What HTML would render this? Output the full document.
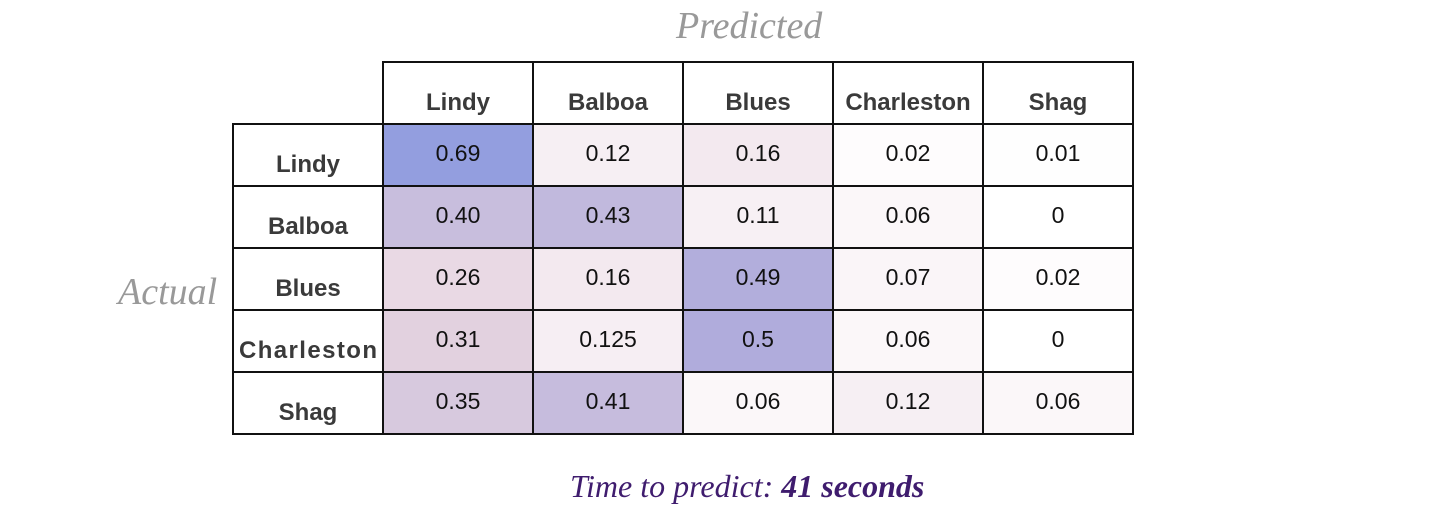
<!DOCTYPE html>
<html><head><meta charset="utf-8">
<style>
body{margin:0;width:1444px;height:526px;background:#fff;position:relative;overflow:hidden;font-family:"Liberation Sans",sans-serif}
.t{position:absolute;font-style:italic}
#grid{position:absolute;left:0;top:0}
</style></head><body>
<div class="t" style="left:676px;top:4px;font-size:38px;color:#999;font-family:'Liberation Serif',serif">Predicted</div>
<div class="t" style="left:118px;top:270px;font-size:38px;color:#999;font-family:'Liberation Serif',serif">Actual</div>
<div class="t" style="left:570px;top:468px;font-size:32px;color:#3f1c6e;font-family:'Liberation Serif',serif">Time to predict: <b>41 seconds</b></div>
<svg id="grid" width="1444" height="526"></svg>
<script>
const categories=["Lindy","Balboa","Blues","Charleston","Shag"];
const row0=["0.69","0.12","0.16","0.02","0.01"];
const row1=["0.40","0.43","0.11","0.06","0"];
const row2=["0.26","0.16","0.49","0.07","0.02"];
const row3=["0.31","0.125","0.5","0.06","0"];
const row4=["0.35","0.41","0.06","0.12","0.06"];
const rows=[row0,row1,row2,row3,row4];
const stops=[[0,[255,255,255]],[0.125,[246,238,243]],[0.3,[229,211,223]],[0.4,[200,190,221]],[0.5,[176,172,220]],[0.7,[145,157,223]]];
function color(v){for(let i=1;i<stops.length;i++){if(v<=stops[i][0]){const a=stops[i-1],b=stops[i],t=(v-a[0])/(b[0]-a[0]);return 'rgb('+a[1].map((c,k)=>Math.round(c+(b[1][k]-c)*t)).join(',')+')';}}return 'rgb(145,157,223)';}
const X0=383,CW=150,Y0=124,RH=62,HX=233,HY=62;
const colX=i=>X0+i*CW, rowY=j=>Y0+j*RH;
const svg=document.getElementById('grid');const NS='http://www.w3.org/2000/svg';
function mk(tag,at,txt){const e=document.createElementNS(NS,tag);for(const k in at)e.setAttribute(k,at[k]);if(txt!==undefined)e.textContent=txt;svg.appendChild(e);return e;}
rows.forEach((r,j)=>r.forEach((v,i)=>{
 const c=mk('rect',{x:colX(i),y:rowY(j),width:CW,height:RH,fill:color(parseFloat(v)),stroke:'#111','stroke-width':2});
 
 
 const t=mk('text',{x:colX(i)+CW/2,y:rowY(j)+37,'text-anchor':'middle','font-size':23,fill:'#111','font-family':'Liberation Sans, sans-serif'},v);
 
 
}));
categories.forEach((c,i)=>{
 const r=mk('rect',{x:colX(i),y:HY,width:CW,height:RH,fill:'#fff',stroke:'#111','stroke-width':2});
 
 
 const t=mk('text',{x:colX(i)+CW/2,y:HY+48,'text-anchor':'middle','font-size':24,'font-weight':'bold',fill:'#3a3a3a','font-family':'Liberation Sans, sans-serif'},c);
 
 
 const r2=mk('rect',{x:HX,y:rowY(i),width:CW,height:RH,fill:'#fff',stroke:'#111','stroke-width':2});
 
 
 const t2=mk('text',{x:HX+CW/2,y:rowY(i)+48,'text-anchor':'middle','font-size':24,'font-weight':'bold',fill:'#3a3a3a','font-family':'Liberation Sans, sans-serif',textLength:c.length>8?138:null},c);
 if(c.length<=8)t2.removeAttribute('textLength');
 
 
});
</script>
</body></html>
